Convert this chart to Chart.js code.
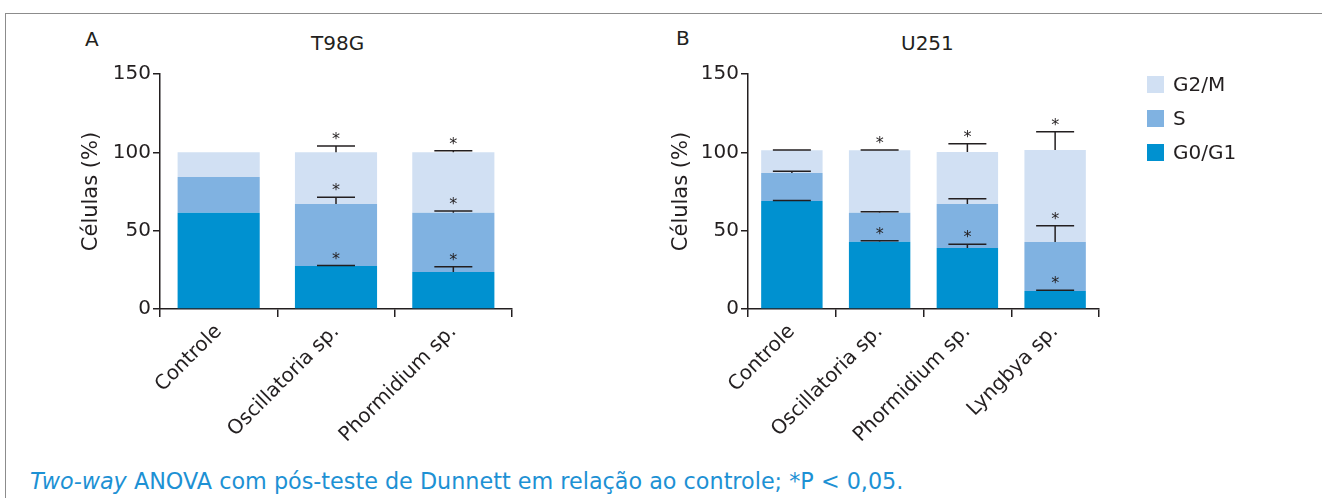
<!DOCTYPE html>
<html>
<head>
<meta charset="utf-8">
<script src="https://cdn.jsdelivr.net/npm/chart.js@4"></script>
<style>
  body { margin: 0; background: #fff; width: 1322px; height: 498px; overflow: hidden; position: relative;
         font-family: "DejaVu Sans", sans-serif; color: #231f20; }
  .frame { position: absolute; left: 5px; top: 13px; width: 1340px; height: 500px;
           border-left: 1.5px solid #8c8c8c; border-top: 1.5px solid #8c8c8c; }
  .lbl { position: absolute; font-size: 20px; line-height: 20px; white-space: nowrap; }
  canvas { position: absolute; }
  #chartA { left: 40px; top: 55px; }
  #chartB { left: 630px; top: 55px; }
  .note { position: absolute; left: 30px; top: 470px; font-size: 22.3px; line-height: 22px; color: #1d91d4; white-space: nowrap; }
</style>
</head>
<body>
<div class="frame"></div>
<div class="lbl" style="left:85px;top:29px">A</div>
<div class="lbl" style="left:311px;top:33px">T98G</div>
<div class="lbl" style="left:676px;top:28px">B</div>
<div class="lbl" style="left:901px;top:33px">U251</div>
<canvas id="chartA" width="500" height="405"></canvas>
<canvas id="chartB" width="690" height="405"></canvas>
<div class="note"><i>Two-way</i> ANOVA com pós-teste de Dunnett em relação ao controle; *P &lt; 0,05.</div>
<script>
// Panel A - T98G
const groupsA = ['Controle', 'Oscillatoria sp.', 'Phormidium sp.'];
const g0g1A = [61.5, 27.4, 23.6];
const sA = [22.7, 39.6, 37.9];
const g2mA = [15.8, 33.0, 38.5];
const g0g1ErrA = [null, 0.3, 3.4];
const sErrA = [null, 4.3, 1.0];
const g2mErrA = [null, 4.0, 1.0];
const g0g1StarA = [false, true, true];
const sStarA = [false, true, true];
const g2mStarA = [false, true, true];

// Panel B - U251
const groupsB = ['Controle', 'Oscillatoria sp.', 'Phormidium sp.', 'Lyngbya sp.'];
const g0g1B = [68.9, 43.0, 38.9, 11.5];
const sB = [17.9, 18.5, 28.1, 31.3];
const g2mB = [14.5, 39.8, 33.2, 58.7];
const g0g1ErrB = [0.4, 0.5, 2.4, 0.4];
const sErrB = [1.2, 0.5, 3.4, 10.4];
const g2mErrB = [0.2, 0.2, 5.3, 11.7];
const g0g1StarB = [false, true, true, true];
const sStarB = [false, false, false, true];
const g2mStarB = [false, true, true, true];

const phases = ['G0/G1', 'S', 'G2/M'];
const yTicks = [0, 50, 100, 150];

const colours = ['#0091d0', '#80b2e1', '#d1e0f3'];
const ink = '#231f20';
const font = { family: '"DejaVu Sans", sans-serif', size: 20 };

// error bars (upwards only) + significance stars
function errorBarPlugin(errs, stars) {
    return {
        id: 'errorBars',
        afterDatasetsDraw(chart) {
            const ctx = chart.ctx;
            const y = chart.scales.y;
            ctx.save();
            ctx.strokeStyle = ink;
            ctx.fillStyle = ink;
            ctx.lineWidth = 1.5;
            ctx.font = '16px "DejaVu Sans", sans-serif';
            ctx.textAlign = 'center';
            ctx.textBaseline = 'alphabetic';
            chart.data.datasets.forEach((ds, i) => {
                const meta = chart.getDatasetMeta(i);
                meta.data.forEach((bar, j) => {
                    const err = errs[i][j];
                    if (err === null) return;
                    let top = 0;
                    for (let k = 0; k <= i; k++) top += chart.data.datasets[k].data[j];
                    const y0 = y.getPixelForValue(top);
                    const y1 = y.getPixelForValue(top + err);
                    ctx.beginPath();
                    ctx.moveTo(bar.x, y0);
                    ctx.lineTo(bar.x, y1);
                    ctx.moveTo(bar.x - 19, y1);
                    ctx.lineTo(bar.x + 19, y1);
                    ctx.stroke();
                    if (stars[i][j]) ctx.fillText('*', bar.x, y1 - 2);
                });
            });
            ctx.restore();
        }
    };
}

// legend at the right of panel B
const sideLegend = {
    id: 'sideLegend',
    afterDraw(chart) {
        const ctx = chart.ctx;
        ctx.save();
        ctx.font = '20px "DejaVu Sans", sans-serif';
        ctx.textBaseline = 'middle';
        const rows = chart.data.datasets.slice().reverse();
        rows.forEach((ds, r) => {
            const cy = 29.5 + r * 34;
            ctx.fillStyle = ds.backgroundColor;
            ctx.fillRect(517, cy - 8.5, 17, 17);
            ctx.fillStyle = ink;
            ctx.fillText(ds.label, 543, cy + 1);
        });
        ctx.restore();
    }
};

function makeChart(id, labels, g0, s, g2, errs, stars, fit, withLegend) {
    const plugins = [errorBarPlugin(errs, stars)];
    if (withLegend) plugins.push(sideLegend);
    return new Chart(document.getElementById(id), {
        type: 'bar',
        data: {
            labels: labels,
            datasets: [
                { label: phases[0], data: g0, backgroundColor: colours[0] },
                { label: phases[1], data: s, backgroundColor: colours[1] },
                { label: phases[2], data: g2, backgroundColor: colours[2] }
            ]
        },
        options: {
            responsive: false,
            animation: false,
            layout: { padding: { top: fit.top, right: fit.right, left: 0, bottom: 0 } },
            datasets: { bar: { barPercentage: 0.7, categoryPercentage: 1 } },
            plugins: { legend: { display: false }, tooltip: { enabled: false } },
            scales: {
                x: {
                    stacked: true,
                    grid: { offset: true, drawOnChartArea: false, tickLength: 8, color: ink, lineWidth: 1.5 },
                    border: { color: ink, width: 1.5 },
                    ticks: { font: font, color: ink, minRotation: 45, maxRotation: 45, autoSkip: false, padding: 3 },
                    afterFit(sc) { sc.height = fit.xh; }
                },
                y: {
                    stacked: true,
                    min: 0,
                    max: 150,
                    afterBuildTicks(sc) { sc.ticks = yTicks.map(v => ({ value: v })); },
                    grid: { drawOnChartArea: false, tickLength: 7, color: ink, lineWidth: 1.5 },
                    border: { color: ink, width: 1.5 },
                    ticks: { font: font, color: ink, padding: 2 },
                    title: { display: true, text: 'Células (%)', font: { family: font.family, size: 21 }, color: ink, padding: { top: 39, bottom: 0 } },
                    afterFit(sc) { sc.width = fit.yw; }
                }
            }
        },
        plugins: plugins
    });
}

makeChart('chartA', groupsA, g0g1A, sA, g2mA,
    [g0g1ErrA, sErrA, g2mErrA], [g0g1StarA, sStarA, g2mStarA],
    { top: 19, right: 28, yw: 120, xh: 151 }, false);

makeChart('chartB', groupsB, g0g1B, sB, g2mB,
    [g0g1ErrB, sErrB, g2mErrB], [g0g1StarB, sStarB, g2mStarB],
    { top: 19, right: 221, yw: 118, xh: 151 }, true);
</script>
</body>
</html>
